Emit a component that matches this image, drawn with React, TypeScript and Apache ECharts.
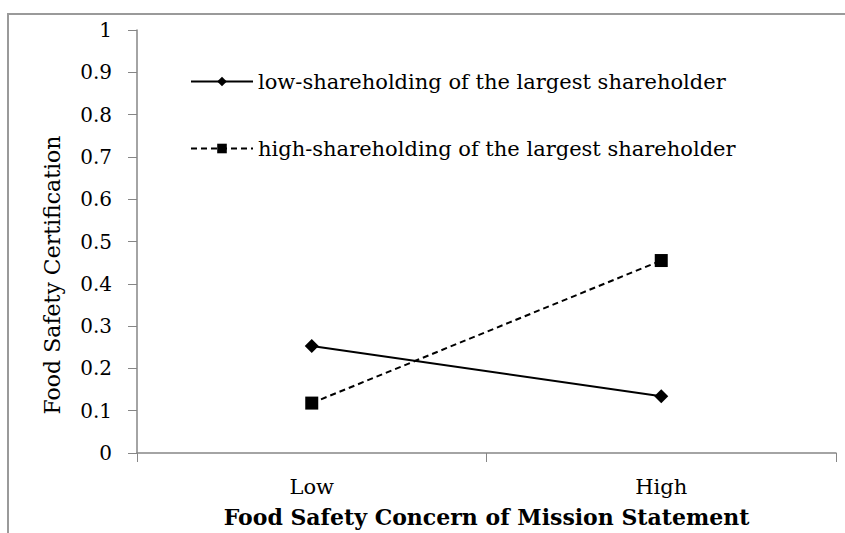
import React, { useEffect, useRef } from "react";
import * as echarts from "echarts";

const categories = ["Low", "High"];
const lowShare = [0.253, 0.134];
const highShare = [0.118, 0.455];
const seriesNames = [
  "low-shareholding of the largest shareholder",
  "high-shareholding of the largest shareholder",
];

const FONT = "'DejaVu Serif', serif";

export default function App() {
  const ref = useRef<HTMLDivElement>(null);
  useEffect(() => {
    if (!ref.current) return;
    const chart = echarts.init(ref.current, undefined, { renderer: "svg" });
    chart.setOption({
      animation: false,
      textStyle: { fontFamily: FONT, color: "#000" },
      graphic: [
        {
          type: "polyline",
          shape: { points: [[8, 533], [8, 14], [845, 14]] },
          style: { stroke: "#9a9a9a", lineWidth: 2, fill: "none" },
          silent: true,
        },
      ],
      grid: { left: 137, right: 9, top: 30, bottom: 80, containLabel: false },
      legend: {
        orient: "vertical",
        left: 190,
        top: 71,
        padding: 0,
        itemWidth: 62,
        itemHeight: 12,
        itemGap: 46,
        textStyle: { fontFamily: FONT, fontSize: 21, color: "#000" },
        data: seriesNames,
      },
      xAxis: {
        type: "category",
        data: categories,
        boundaryGap: true,
        name: "Food Safety Concern of Mission Statement",
        nameLocation: "middle",
        nameGap: 53,
        nameTextStyle: { fontFamily: FONT, fontSize: 22, fontWeight: "bold", color: "#000" },
        axisLine: { lineStyle: { color: "#868686", width: 1.5 } },
        axisTick: { show: true, length: 9, lineStyle: { color: "#868686" } },
        axisLabel: { fontFamily: FONT, fontSize: 21, color: "#000", margin: 23 },
      },
      yAxis: {
        type: "value",
        min: 0,
        max: 1,
        interval: 0.1,
        name: "Food Safety Certification",
        nameLocation: "middle",
        nameGap: 74,
        nameTextStyle: {
          fontFamily: FONT,
          fontSize: 22,
          color: "#000",
          padding: [0, 67, 0, 0],
        },
        splitLine: { show: false },
        axisLine: { show: true, lineStyle: { color: "#868686", width: 1.5 } },
        axisTick: { show: true, length: 9, lineStyle: { color: "#868686" } },
        axisLabel: { fontFamily: FONT, fontSize: 20, color: "#000", margin: 25 },
      },
      series: [
        {
          name: seriesNames[0],
          type: "line",
          data: lowShare,
          symbol: "diamond",
          symbolSize: 14,
          itemStyle: { color: "#000" },
          lineStyle: { color: "#000", width: 2, type: "solid" },
        },
        {
          name: seriesNames[1],
          type: "line",
          data: highShare,
          symbol: "rect",
          symbolSize: 13,
          itemStyle: { color: "#000" },
          lineStyle: { color: "#000", width: 2, type: [6, 4] },
        },
      ],
    });
    return () => chart.dispose();
  }, []);
  return (
    <div
      ref={ref}
      style={{ position: "absolute", left: 0, top: 0, width: 845, height: 533 }}
    />
  );
}
